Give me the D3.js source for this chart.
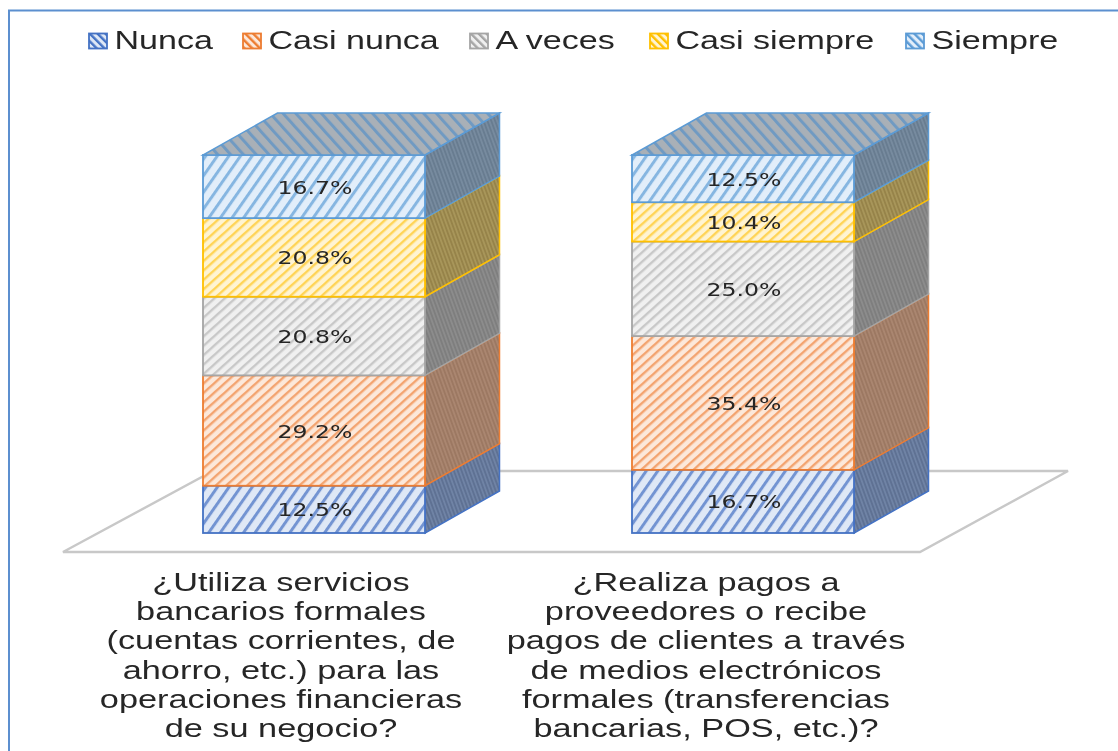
<!DOCTYPE html>
<html>
<head>
<meta charset="utf-8">
<script src="https://cdn.jsdelivr.net/npm/d3@7"></script>
<style>
  html, body { margin: 0; padding: 0; background: #fff; }
  svg { display: block; }
</style>
</head>
<body>
<div id="chart"></div>
<script>
// Data
const categories = ["q1", "q2"];
const seriesNames = ["Nunca", "Casi nunca", "A veces", "Casi siempre", "Siempre"];
const q1Values = [12.5, 29.2, 20.8, 20.8, 16.7];
const q2Values = [16.7, 35.4, 25.0, 10.4, 12.5];
const q1Label = ["¿Utiliza servicios", "bancarios formales", "(cuentas corrientes, de", "ahorro, etc.) para las", "operaciones financieras", "de su negocio?"];
const q2Label = ["¿Realiza pagos a", "proveedores o recibe", "pagos de clientes a través", "de medios electrónicos", "formales (transferencias", "bancarias, POS, etc.)?"];

const colors = ["#4472c4", "#ed7d31", "#a5a5a5", "#ffc000", "#5b9bd5"];
const lightFill = ["#dfe8f6", "#fce8da", "#f0f0f0", "#fff4d2", "#e2eefa"];
const stripeFill = ["#7394d2", "#f3a470", "#c8c8c8", "#ffd457", "#86b6e1"];
const sideBg = ["#5e7193", "#9c7862", "#7e7e7e", "#96834a", "#687c90"];
const sideFg = ["#6f83a5", "#aa8670", "#8c8c8c", "#a8965a", "#778b9f"];

const width = 1118;
const height = 751;
const depthX = 74.5;
const depthY = -42;
const floorY = 533;
const topY = 155;

const svg = d3.select("#chart")
    .append("svg")
    .attr("width", width)
    .attr("height", height);

const defs = svg.append("defs");

// Hatch patterns, one per series and face
function addPattern(id, bg, fg, size, stroke, angle) {
    const p = defs.append("pattern")
        .attr("id", id)
        .attr("patternUnits", "userSpaceOnUse")
        .attr("width", size)
        .attr("height", size)
        .attr("patternTransform", `rotate(${angle})`);
    p.append("rect").attr("width", size).attr("height", size).attr("fill", bg);
    p.append("rect").attr("width", stroke).attr("height", size).attr("fill", fg);
}

colors.forEach((c, i) => {
    const steep = i === 0 || i === 4;
    addPattern(`front${i}`, lightFill[i], stripeFill[i], steep ? 9.5 : 7, steep ? 3 : 2.4, steep ? 35 : 48);
    addPattern(`side${i}`, sideBg[i], sideFg[i], 3.6, 1.8, -20);
    addPattern(`legend${i}`, lightFill[i], c, 5.5, 2.4, -45);
});
addPattern("top4", "#a9b0b7", "#6f9ac2", 9.5, 3, -42);

const blur = defs.append("filter").attr("id", "soft")
    .attr("x", "-2%").attr("y", "-2%").attr("width", "104%").attr("height", "104%");
blur.append("feGaussianBlur").attr("stdDeviation", 0.65);

const root = svg.append("g").attr("filter", "url(#soft)");

// Chart area border
root.append("path")
    .attr("d", `M9,751V10.5H${width}`)
    .attr("fill", "none")
    .attr("stroke", "#5b8fcf")
    .attr("stroke-width", 2);

// Scales
const x = d3.scaleOrdinal().domain(categories).range([203, 632]);
const barWidth = 222;
const y = d3.scaleLinear().domain([0, 100]).range([floorY, topY]);

// Floor
root.append("polygon")
    .attr("points", [[63, 552], [920, 552], [1068, 471], [213, 471]].join(" "))
    .attr("fill", "#fff")
    .attr("stroke", "#c8c8c8")
    .attr("stroke-width", 2.4);

// Stacked 3D bars
const rows = categories.map((c, k) => {
    const row = { category: c };
    const vals = k === 0 ? q1Values : q2Values;
    seriesNames.forEach((s, i) => { row[s] = vals[i]; });
    return row;
});
const stacked = d3.stack().keys(seriesNames)(rows);

categories.forEach((c, k) => {
    const g = root.append("g");
    const x0 = x(c);
    const x1 = x0 + barWidth;

    stacked.forEach((layer, i) => {
        const d = layer[k];
        const yb = y(d[0]);
        const yt = y(d[1]);

        // side face
        g.append("polygon")
            .attr("points", [[x1, yb], [x1 + depthX, yb + depthY], [x1 + depthX, yt + depthY], [x1, yt]].join(" "))
            .attr("fill", `url(#side${i})`)
            .attr("stroke", colors[i])
            .attr("stroke-width", 1.5);

        // front face
        g.append("rect")
            .attr("x", x0)
            .attr("y", yt)
            .attr("width", barWidth)
            .attr("height", yb - yt)
            .attr("fill", `url(#front${i})`)
            .attr("stroke", colors[i])
            .attr("stroke-width", 1.8);

        // value label
        g.append("text")
            .attr("transform", `translate(${x0 + barWidth / 2 + 1},${(yb + yt) / 2 + 7}) scale(1.31,1)`)
            .attr("text-anchor", "middle")
            .attr("font-family", "DejaVu Sans")
            .attr("font-size", 18)
            .attr("fill", "#262626")
            .text(d.data[seriesNames[i]].toFixed(1) + "%");
    });

    // top face
    g.append("polygon")
        .attr("points", [[x0, topY], [x1, topY], [x1 + depthX, topY + depthY], [x0 + depthX, topY + depthY]].join(" "))
        .attr("fill", "url(#top4)")
        .attr("stroke", colors[4])
        .attr("stroke-width", 1.5);
});

// Category labels
const labelFont = "Liberation Sans";
[q1Label, q2Label].forEach((lines, k) => {
    const cx = k === 0 ? 281 : 706;
    lines.forEach((line, i) => {
        root.append("text")
            .attr("transform", `translate(${cx},${591 + i * 29.2}) scale(1.32,1)`)
            .attr("text-anchor", "middle")
            .attr("font-family", labelFont)
            .attr("font-size", 26)
            .attr("fill", "#262626")
            .text(line);
    });
});

// Legend
const legendX = [89, 243, 470, 650, 906];
seriesNames.forEach((s, i) => {
    root.append("rect")
        .attr("x", legendX[i])
        .attr("y", 33.5)
        .attr("width", 18)
        .attr("height", 15)
        .attr("fill", `url(#legend${i})`)
        .attr("stroke", colors[i])
        .attr("stroke-width", 1.8);
    root.append("text")
        .attr("transform", `translate(${legendX[i] + 25.5},49) scale(1.31,1)`)
        .attr("font-family", labelFont)
        .attr("font-size", 26)
        .attr("fill", "#262626")
        .text(s);
});
</script>
</body>
</html>
